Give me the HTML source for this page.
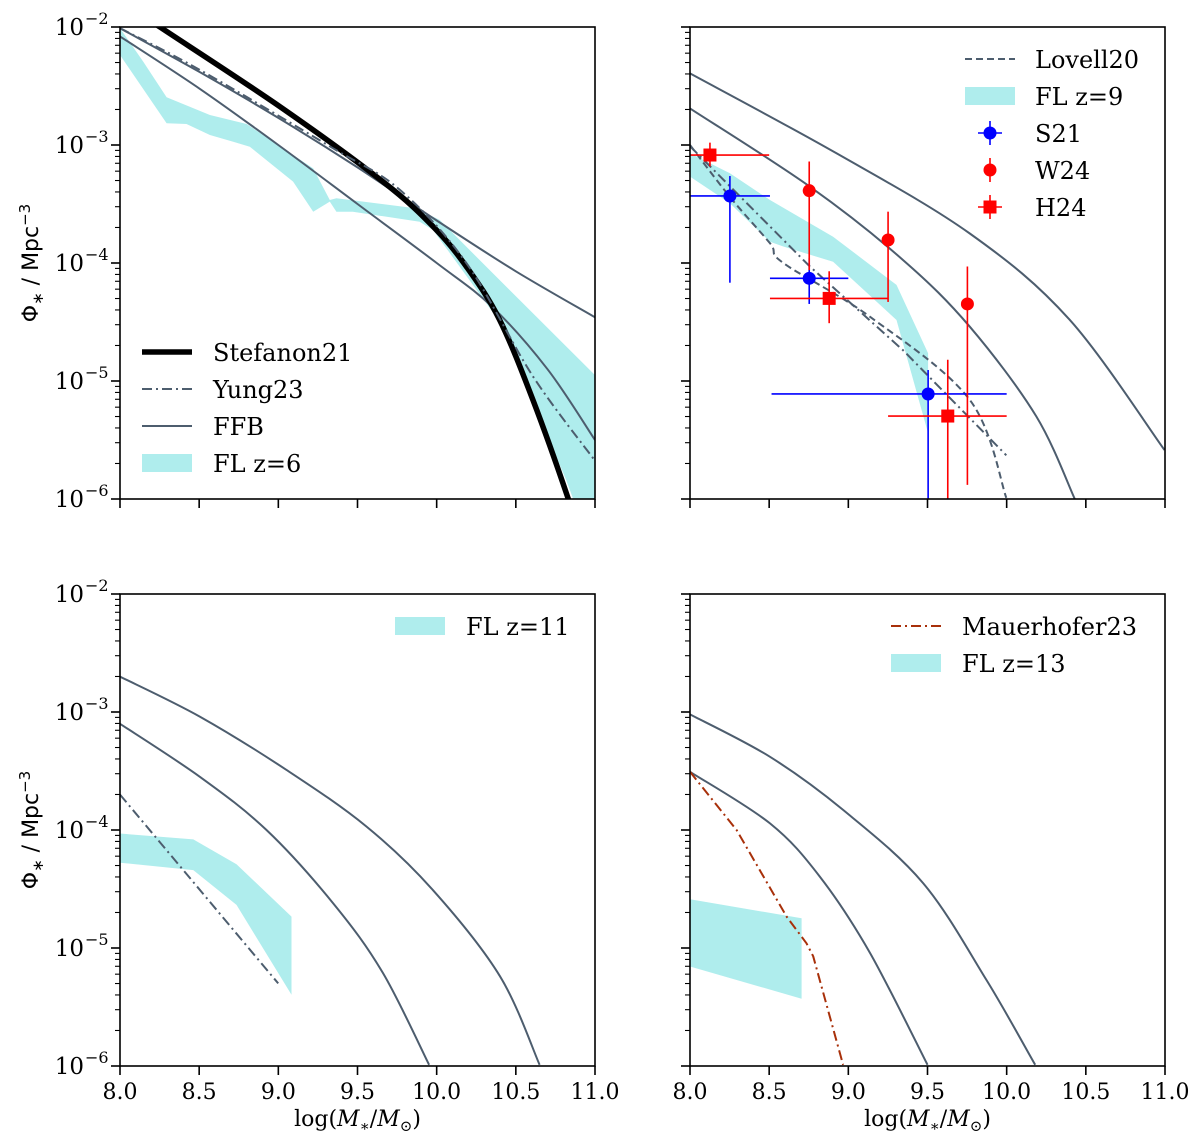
<!DOCTYPE html>
<html><head><meta charset="utf-8">
<style>
html,body{margin:0;padding:0;background:#fff;}
svg{display:block;}
text{font-family:"DejaVu Serif","Liberation Serif",serif;fill:#000;}
.ax{font-family:"DejaVu Sans","Liberation Sans",sans-serif;}
</style></head>
<body>
<svg id="fig" width="1200" height="1143" viewBox="0 0 1200 1143" xmlns="http://www.w3.org/2000/svg"></svg>
<script>
// ---- data (log10 mass, log10 phi) ----
const xTicks = [8.0, 8.5, 9.0, 9.5, 10.0, 10.5, 11.0];
const xTickLabels = ["8.0","8.5","9.0","9.5","10.0","10.5","11.0"];
const yTicks = [-2, -3, -4, -5, -6];
const yTickLabels = ["−2","−3","−4","−5","−6"];

// panel 1 (z=6)
const stefanonX = [8.20, 8.252, 9.01, 9.66, 9.977, 10.187, 10.397, 10.608, 10.829, 10.87];
const stefanonY = [-1.95, -2.0, -2.675, -3.31, -3.69, -4.03, -4.48, -5.16, -5.99, -6.2];
const yung6X = [8.0, 8.505, 9.346, 9.767, 10.187, 10.608, 10.997];
const yung6Y = [-2.01, -2.364, -3.028, -3.38, -4.0, -4.96, -5.67];
const ffb6aX = [8.0, 8.5, 9.0, 9.5, 10.0, 10.5, 11.0];
const ffb6aY = [-2.01, -2.38, -2.77, -3.19, -3.64, -4.07, -4.46];
const ffb6bX = [8.0, 8.5, 9.0, 9.5, 10.0, 10.35, 10.7, 11.0];
const ffb6bY = [-2.08, -2.52, -3.0, -3.5, -4.0, -4.37, -4.9, -5.5];
const fl6UpX = [8.0, 8.147, 8.294, 8.568, 8.80, 9.22, 9.325, 9.367, 9.872, 10.02, 10.29, 11.0];
const fl6UpY = [-2.01, -2.294, -2.596, -2.746, -2.822, -3.198, -3.466, -3.452, -3.537, -3.636, -4.0, -4.95];
const fl6LoX = [8.0, 8.294, 8.42, 8.568, 8.715, 8.82, 9.093, 9.22, 9.325, 9.367, 9.47, 9.893, 9.977, 10.145, 10.397, 10.818, 11.0];
const fl6LoY = [-2.237, -2.816, -2.822, -2.915, -2.972, -3.014, -3.31, -3.565, -3.48, -3.565, -3.565, -3.65, -3.72, -4.03, -4.497, -5.84, -6.5];

// panel 2 (z=9)
const ffb9aX = [8.0, 8.925, 9.767, 10.397, 10.997];
const ffb9aY = [-2.393, -3.07, -3.75, -4.48, -5.585];
const ffb9bX = [8.0, 8.757, 9.346, 9.767, 10.187, 10.43];
const ffb9bY = [-2.69, -3.353, -3.975, -4.54, -5.30, -6.0];
const lovellX = [8.0, 8.252, 8.505, 8.589, 9.136, 9.767, 9.998];
const lovellY = [-3.0, -3.44, -3.833, -4.0, -4.455, -5.16, -5.99];
const yung9X = [8.0, 8.757, 9.346, 9.998];
const yung9Y = [-3.01, -4.03, -4.74, -5.63];
const fl9UpX = [8.0, 8.252, 8.505, 8.904, 9.304, 9.504];
const fl9UpY = [-3.07, -3.24, -3.466, -3.777, -4.186, -4.765];
const fl9LoX = [8.0, 8.252, 8.505, 8.589, 8.904, 9.304, 9.504];
const fl9LoY = [-3.268, -3.494, -3.82, -3.86, -3.99, -4.483, -5.443];
const s21X = [8.252, 8.753, 9.504];
const s21Y = [-3.432, -4.13, -5.11];
const s21XLo = [8.0, 8.505, 8.515];
const s21XHi = [8.505, 9.0, 10.0];
const s21YHi = [-3.263, -3.96, -4.907];
const s21YLo = [-4.167, -4.347, -6.5];
const w24X = [8.753, 9.251, 9.752];
const w24Y = [-3.387, -3.805, -4.347];
const w24YHi = [-3.14, -3.565, -4.03];
const w24YLo = [-4.06, -4.33, -5.88];
const h24X = [8.126, 8.879, 9.628];
const h24Y = [-3.085, -4.3, -5.297];
const h24XLo = [8.0, 8.505, 9.251];
const h24XHi = [8.5, 9.251, 10.0];
const h24YHi = [-2.98, -4.07, -4.82];
const h24YLo = [-3.18, -4.51, -6.5];

// panel 3 (z=11)
const ffb11aX = [8.0, 8.505, 9.05, 9.556, 9.977, 10.40, 10.65];
const ffb11aY = [-2.70, -3.04, -3.49, -3.97, -4.51, -5.24, -5.99];
const ffb11bX = [8.0, 8.505, 8.925, 9.346, 9.66, 9.952];
const ffb11bY = [-3.10, -3.55, -4.0, -4.62, -5.21, -5.99];
const yung11X = [8.0, 8.999];
const yung11Y = [-3.70, -5.30];
const fl11UpX = [8.0, 8.463, 8.736, 9.083];
const fl11UpY = [-4.03, -4.08, -4.29, -4.734];
const fl11LoX = [8.0, 8.463, 8.736, 9.083];
const fl11LoY = [-4.277, -4.34, -4.635, -5.397];

// panel 4 (z=13)
const ffb13aX = [8.0, 8.505, 8.967, 9.472, 9.872, 10.18];
const ffb13aY = [-3.02, -3.38, -3.83, -4.45, -5.27, -5.99];
const ffb13bX = [8.0, 8.505, 8.82, 9.136, 9.5];
const ffb13bY = [-3.507, -3.944, -4.395, -5.04, -5.99];
const mauerX = [8.0, 8.294, 8.61, 8.736, 8.778, 8.967];
const mauerY = [-3.507, -4.0, -4.734, -4.96, -5.07, -5.99];
const fl13UpX = [8.0, 8.705];
const fl13UpY = [-4.587, -4.748];
const fl13LoX = [8.0, 8.705];
const fl13LoY = [-5.157, -5.43];

// ---- drawing ----
const NS = "http://www.w3.org/2000/svg";
const svg = document.getElementById("fig");
const SLATE = "#4d5d6e", BAND = "#afeded";
function mk(tag, attrs, parent){
  const e = document.createElementNS(NS, tag);
  for (const k in attrs) e.setAttribute(k, attrs[k]);
  (parent||svg).appendChild(e);
  return e;
}
const panels = [
  {id:"top-left", x0:120, x1:595, y0:27, y1:499, xl:false, yl:true},
  {id:"top-right", x0:690, x1:1165, y0:27, y1:499, xl:false, yl:false},
  {id:"bottom-left", x0:120, x1:595, y0:594, y1:1066, xl:true, yl:true},
  {id:"bottom-right", x0:690, x1:1165, y0:594, y1:1066, xl:true, yl:false}
];
function sx(p, v){ return p.x0 + (v - 8) / 3 * (p.x1 - p.x0); }
function sy(p, v){ return p.y0 + (-2 - v) / 4 * (p.y1 - p.y0); }
function pts(p, X, Y){ return X.map((x,i)=> sx(p,x).toFixed(1)+","+sy(p,Y[i]).toFixed(1)).join(" "); }
function smoothPath(p, X, Y){
  const P = X.map((x,i)=>[sx(p,x), sy(p,Y[i])]);
  let d = "M" + P[0][0].toFixed(1) + "," + P[0][1].toFixed(1);
  for (let i=0;i<P.length-1;i++){
    const p0 = P[Math.max(0,i-1)], p1 = P[i], p2 = P[i+1], p3 = P[Math.min(P.length-1,i+2)];
    const c1 = [p1[0]+(p2[0]-p0[0])/6, p1[1]+(p2[1]-p0[1])/6];
    const c2 = [p2[0]-(p3[0]-p1[0])/6, p2[1]-(p3[1]-p1[1])/6];
    d += " C"+c1[0].toFixed(1)+","+c1[1].toFixed(1)+" "+c2[0].toFixed(1)+","+c2[1].toFixed(1)+" "+p2[0].toFixed(1)+","+p2[1].toFixed(1);
  }
  return d;
}

const defs = mk("defs", {});
panels.forEach((p,i)=>{
  const cp = mk("clipPath", {id:"clip"+i}, defs);
  mk("rect", {x:p.x0, y:p.y0, width:p.x1-p.x0, height:p.y1-p.y0}, cp);
});

function panelGroup(i){
  const g = mk("g", {"clip-path":"url(#clip"+i+")"});
  
  
  return g;
}
function line(g, p, X, Y, name, stroke, w, dash, smooth){
  let e;
  if (smooth) e = mk("path", {d:smoothPath(p,X,Y), fill:"none", stroke:stroke, "stroke-width":w}, g);
  else e = mk("polyline", {points:pts(p,X,Y), fill:"none", stroke:stroke, "stroke-width":w, "stroke-linejoin":"round"}, g);
  if (dash) e.setAttribute("stroke-dasharray", dash);
  
  
  return e;
}
function band(g, p, UX, UY, LX, LY, name){
  const up = pts(p, UX, UY);
  const lo = pts(p, LX.slice().reverse(), LY.slice().reverse());
  const e = mk("polygon", {points: up + " " + lo, fill:BAND, stroke:"none"}, g);
  
  
}
function errpt(g, p, x, y, xlo, xhi, yhi, ylo, color, shape, name){
  const gg = mk("g", {}, g);
  
  
  if (xlo !== null) mk("line", {x1:sx(p,xlo), x2:sx(p,xhi), y1:sy(p,y), y2:sy(p,y), stroke:color, "stroke-width":1.6}, gg);
  mk("line", {x1:sx(p,x), x2:sx(p,x), y1:sy(p,yhi), y2:sy(p,ylo), stroke:color, "stroke-width":1.6}, gg);
  if (shape === "o") mk("circle", {cx:sx(p,x), cy:sy(p,y), r:6.5, fill:color}, gg);
  else mk("rect", {x:sx(p,x)-6.5, y:sy(p,y)-6.5, width:13, height:13, fill:color}, gg);
}

// Panel 1
let p = panels[0], g = panelGroup(0);
band(g, p, fl6UpX, fl6UpY, fl6LoX, fl6LoY, "fl-z6-band");
line(g, p, ffb6aX, ffb6aY, "ffb-line-upper", SLATE, 2, null, true);
line(g, p, ffb6bX, ffb6bY, "ffb-line-lower", SLATE, 2, null, true);
line(g, p, stefanonX, stefanonY, "stefanon21-line", "#000", 5.5, null, true);
line(g, p, yung6X, yung6Y, "yung23-line", SLATE, 2, "10,4,2,4", true);

// Panel 2
p = panels[1]; g = panelGroup(1);
band(g, p, fl9UpX, fl9UpY, fl9LoX, fl9LoY, "fl-z9-band");
line(g, p, ffb9aX, ffb9aY, "ffb-line-upper", SLATE, 2, null, true);
line(g, p, ffb9bX, ffb9bY, "ffb-line-lower", SLATE, 2, null, true);
line(g, p, lovellX, lovellY, "lovell20-line", SLATE, 2, "7,4", true);
line(g, p, yung9X, yung9Y, "yung23-line", SLATE, 2, "10,4,2,4", false);
s21X.forEach((x,i)=> errpt(g, p, x, s21Y[i], s21XLo[i], s21XHi[i], s21YHi[i], s21YLo[i], "#0000ff", "o", "s21-point"));
w24X.forEach((x,i)=> errpt(g, p, x, w24Y[i], null, null, w24YHi[i], w24YLo[i], "#ff0000", "o", "w24-point"));
h24X.forEach((x,i)=> errpt(g, p, x, h24Y[i], h24XLo[i], h24XHi[i], h24YHi[i], h24YLo[i], "#ff0000", "s", "h24-point"));

// Panel 3
p = panels[2]; g = panelGroup(2);
band(g, p, fl11UpX, fl11UpY, fl11LoX, fl11LoY, "fl-z11-band");
line(g, p, ffb11aX, ffb11aY, "ffb-line-upper", SLATE, 2, null, true);
line(g, p, ffb11bX, ffb11bY, "ffb-line-lower", SLATE, 2, null, true);
line(g, p, yung11X, yung11Y, "yung23-line", SLATE, 2, "10,4,2,4", false);

// Panel 4
p = panels[3]; g = panelGroup(3);
band(g, p, fl13UpX, fl13UpY, fl13LoX, fl13LoY, "fl-z13-band");
line(g, p, ffb13aX, ffb13aY, "ffb-line-upper", SLATE, 2, null, true);
line(g, p, ffb13bX, ffb13bY, "ffb-line-lower", SLATE, 2, null, true);
line(g, p, mauerX, mauerY, "mauerhofer23-line", "#a8300a", 2, "10,4,2,4", false);

// Axes, ticks
panels.forEach((p,i)=>{
  const fr = mk("rect", {x:p.x0, y:p.y0, width:p.x1-p.x0, height:p.y1-p.y0, fill:"none", stroke:"#000", "stroke-width":1.6});
  
  
  xTicks.forEach((t,k)=>{
    const X = sx(p,t);
    const tk = mk("line", {x1:X, x2:X, y1:p.y1, y2:p.y1+9, stroke:"#000", "stroke-width":1.6});
    
    
    if (p.xl){
      const tl = mk("text", {x:X, y:p.y1+33, "text-anchor":"middle", "font-size":22});
      tl.textContent = xTickLabels[k];
      
      
    }
  });
  yTicks.forEach((t,k)=>{
    const Y = sy(p,t);
    const tk = mk("line", {x1:p.x0-9, x2:p.x0, y1:Y, y2:Y, stroke:"#000", "stroke-width":1.6});
    
    
    if (t > -6){
      for (let m=2; m<=9; m++){
        const my = sy(p, t-1+Math.log10(m));
        const mt = mk("line", {x1:p.x0-5, x2:p.x0, y1:my, y2:my, stroke:"#000", "stroke-width":1.1});
        
        
      }
    }
    if (p.yl){
      const tl = mk("text", {x:p.x0-36, y:Y+8, "text-anchor":"end", "font-size":23});
      tl.textContent = "10";
      
      
      const sp = mk("text", {x:p.x0-35, y:Y-3, "text-anchor":"start", "font-size":16});
      sp.textContent = yTickLabels[k];
      
      
    }
  });
  if (p.yl){
    const cy = (p.y0+p.y1)/2;
    const yt = mk("text", {x:0, y:0, "text-anchor":"middle", "font-size":22, "class":"ax", transform:"translate(38,"+cy+") rotate(-90)"});
    yt.innerHTML = 'Φ<tspan font-size="15" dy="5">∗</tspan><tspan dy="-5"> / Mpc</tspan><tspan font-size="15" dy="-8">−3</tspan>';
    
    
  }
  if (p.xl){
    const xt = mk("text", {x:(p.x0+p.x1)/2, y:1126, "text-anchor":"middle", "font-size":22});
    xt.innerHTML = 'log(<tspan font-style="italic">M</tspan><tspan font-size="15" dy="5">∗</tspan><tspan dy="-5">/</tspan><tspan font-style="italic">M</tspan><tspan font-size="15" dy="5">⊙</tspan><tspan dy="-5">)</tspan>';
    
    
  }
});

// Legends
function legRow(x, y, tx, label, kind, color){
  const gg = mk("g", {});
  
  
  if (kind === "band") mk("rect", {x:x, y:y-9, width:50, height:18, fill:BAND}, gg);
  else if (kind === "thick") mk("line", {x1:x, x2:x+50, y1:y, y2:y, stroke:"#000", "stroke-width":5.5}, gg);
  else if (kind === "solid") mk("line", {x1:x, x2:x+50, y1:y, y2:y, stroke:SLATE, "stroke-width":2}, gg);
  else if (kind === "dashdot") mk("line", {x1:x, x2:x+50, y1:y, y2:y, stroke:color||SLATE, "stroke-width":2, "stroke-dasharray":"10,4,2,4"}, gg);
  else if (kind === "dash") mk("line", {x1:x, x2:x+50, y1:y, y2:y, stroke:SLATE, "stroke-width":2, "stroke-dasharray":"7,4"}, gg);
  else if (kind === "o" || kind === "s"){
    const cx = x+25;
    mk("line", {x1:cx-12, x2:cx+12, y1:y, y2:y, stroke:color, "stroke-width":1.6}, gg);
    mk("line", {x1:cx, x2:cx, y1:y-12, y2:y+12, stroke:color, "stroke-width":1.6}, gg);
    if (kind === "o") mk("circle", {cx:cx, cy:y, r:6.5, fill:color}, gg);
    else mk("rect", {x:cx-6.5, y:y-6.5, width:13, height:13, fill:color}, gg);
  } else if (kind === "ov"){
    const cx = x+25;
    mk("line", {x1:cx, x2:cx, y1:y-12, y2:y+12, stroke:color, "stroke-width":1.6}, gg);
    mk("circle", {cx:cx, cy:y, r:6.5, fill:color}, gg);
  }
  const t = mk("text", {x:tx, y:y+9, "font-size":24}, gg);
  t.textContent = label;
}
legRow(142, 352, 213, "Stefanon21", "thick");
legRow(142, 389, 213, "Yung23", "dashdot");
legRow(142, 426, 213, "FFB", "solid");
legRow(142, 463, 213, "FL z=6", "band");
legRow(965, 59, 1035, "Lovell20", "dash");
legRow(965, 96, 1035, "FL z=9", "band");
legRow(965, 133, 1035, "S21", "o", "#0000ff");
legRow(965, 170, 1035, "W24", "ov", "#ff0000");
legRow(965, 207, 1035, "H24", "s", "#ff0000");
legRow(395, 626, 466, "FL z=11", "band");
legRow(891, 626, 962, "Mauerhofer23", "dashdot", "#a8300a");
legRow(891, 663, 962, "FL z=13", "band");
</script>
</body></html>
